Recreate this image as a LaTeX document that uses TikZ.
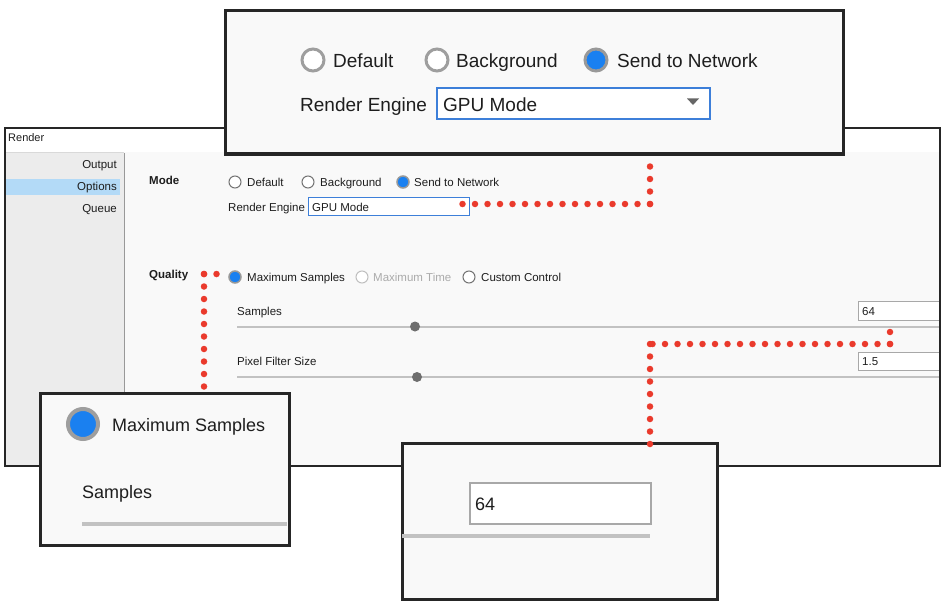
\documentclass[tikz,border=0pt]{standalone}
\usepackage{fontspec}
\setmainfont{Liberation Sans}
\definecolor{panelbg}{HTML}{F9F9F9}
\definecolor{sidebg}{HTML}{ECECEC}
\definecolor{selbg}{HTML}{B3DAF7}
\definecolor{txt}{HTML}{1E1E1E}
\definecolor{dotred}{HTML}{EA3A2C}
\definecolor{radioblue}{HTML}{1A80F0}
\definecolor{comboblue}{HTML}{3D7FD9}
\definecolor{sliderc}{HTML}{C2C2C2}
\definecolor{knobc}{HTML}{6E6E6E}
\definecolor{fieldc}{HTML}{A8A8A8}
\definecolor{disabled}{HTML}{ABABAB}
\begin{document}
\begin{tikzpicture}[x=1pt,y=-1pt,
  small/.style={anchor=base west, inner sep=0pt, text=txt, font=\fontsize{11.5}{13}\selectfont},
  smallr/.style={small, anchor=base east},
  big/.style={anchor=base west, inner sep=0pt, text=txt, font=\fontsize{19}{22}\selectfont},
  mid/.style={anchor=base west, inner sep=0pt, text=txt, font=\fontsize{18}{21}\selectfont},
  radiooff/.style={circle, draw=black!55, fill=white, line width=1pt, minimum size=12pt, inner sep=0pt},
  radioon/.style={circle, draw=black!40, fill=radioblue, line width=1.5pt, minimum size=12pt, inner sep=0pt},
  bigradiooff/.style={radiooff, draw=black!38, line width=3pt, minimum size=22pt},
  bigradioon/.style={radioon, line width=3pt, minimum size=22pt},
  calloutbox/.style={draw=black!85, line width=3.5pt, fill=panelbg, inner sep=0pt, anchor=north west},
  slider/.style={draw=sliderc, line width=2pt},
  knob/.style={circle, fill=knobc, minimum size=10pt, inner sep=0pt},
  field/.style={draw=fieldc, line width=1pt, fill=white, inner sep=0pt, anchor=north west},
  reddots/.style={draw=dotred, line width=6.5pt, line cap=round, dash pattern=on 0pt off 12.5pt}
]
\useasboundingbox (0,0) rectangle (943,602);

% ---------------- main window ----------------
\fill[panelbg] (5,128) rectangle (940,466);
\fill[white] (5,128) rectangle (940,152);
\fill[sidebg] (5,153) rectangle (124,466);
\draw[black!40, line width=1pt] (124,153) -- (124,466);
\draw[black!15, line width=0.8pt] (5,152.5) -- (124,152.5);
\fill[selbg] (5,179) rectangle (120,195);
\node[small, font=\fontsize{11}{13}\selectfont] (title) at (8,141) {Render};
\node[smallr] (sOutput) at (117,168) {Output};
\node[smallr] (sOptions) at (117,190) {Options};
\node[smallr] (sQueue) at (117,212) {Queue};

% Mode
\node[small, font=\bfseries\fontsize{11.5}{13}\selectfont] (mode) at (149,184) {Mode};
\node[radiooff] (rDef) at (235,182) {};
\node[small] (tDef) at (247,186) {Default};
\node[radiooff] (rBg) at (308,182) {};
\node[small] (tBg) at (320,186) {Background};
\node[radioon] (rNet) at (403,182) {};
\node[small] (tNet) at (414,186) {Send to Network};
\node[small] (tRE) at (228,211) {Render Engine};
\node[draw=comboblue, line width=1pt, fill=white, inner sep=0pt, anchor=north west,
      minimum width=161pt, minimum height=18pt] (combo) at (308,197) {};
\node[small] (tGPU) at (312,211) {GPU Mode};

% Quality
\node[small, font=\bfseries\fontsize{11.5}{13}\selectfont] (quality) at (149,278) {Quality};
\node[radioon] (rMax) at (235,277) {};
\node[small] (tMax) at (247,281) {Maximum Samples};
\node[radiooff, draw=black!25] (rTime) at (362,277) {};
\node[small, text=disabled] (tTime) at (373,281) {Maximum Time};
\node[radiooff] (rCust) at (469,277) {};
\node[small] (tCust) at (481,281) {Custom Control};

\node[small] (tSamples) at (237,315) {Samples};
\draw[slider] (237,326.5) -- (939,326.5);
\node[knob] (k1) at (415,326.5) {};
\node[field, minimum width=82pt, minimum height=19pt] (f64) at (858,301) {};
\node[small] (t64) at (862,315) {64};

\node[small] (tPix) at (237,365) {Pixel Filter Size};
\draw[slider] (237,377) -- (939,377);
\node[knob] (k2) at (417,377) {};
\node[field, minimum width=82pt, minimum height=18pt] (f15) at (858,352) {};
\node[small] (t15) at (862,365) {1.5};

\draw[black!85, line width=2pt] (5,128) rectangle (940,466);

% ---------------- top callout ----------------
\node[calloutbox, minimum width=618pt, minimum height=143pt] (topcall) at (223.5,9) {};
\node[bigradiooff] (bDef) at (313,60) {};
\node[big] (bDefT) at (333,67) {Default};
\node[bigradiooff] (bBg) at (437,60) {};
\node[big] (bBgT) at (456,67) {Background};
\node[bigradioon] (bNet) at (596,60) {};
\node[big] (bNetT) at (617,67) {Send to Network};
\node[big] (bRE) at (300,111) {Render Engine};
\node[draw=comboblue, line width=2pt, fill=white, inner sep=0pt, anchor=north west,
      minimum width=273pt, minimum height=31pt] (bCombo) at (436,87) {};
\node[big] (bGPU) at (443,111) {GPU Mode};
\fill[black!60] (687,98.5) -- (699,98.5) -- (693,105) -- cycle;

% ---------------- bottom-left callout ----------------
\node[calloutbox, minimum width=249pt, minimum height=152pt] (leftcall) at (38.5,391.5) {};
\node[circle, draw=black!38, fill=radioblue, line width=4pt, minimum size=30pt, inner sep=0pt] (lRad) at (83,424) {};
\node[mid] (lMax) at (112,431) {Maximum Samples};
\node[mid] (lSam) at (82,498) {Samples};
\draw[draw=sliderc, line width=4pt] (82,524) -- (287,524);

% ---------------- bottom-middle callout ----------------
\node[calloutbox, minimum width=315pt, minimum height=156pt] (midcall) at (400.5,441.5) {};
\node[field, line width=2pt, minimum width=181pt, minimum height=41pt] (bField) at (469,482) {};
\node[mid] (b64) at (475,510) {64};
\draw[draw=sliderc, line width=4pt] (402,536) -- (650,536);

% ---------------- red dotted connectors ----------------
\coordinate (p1s) at (451,204);
\coordinate (p1c) at (650,204);
\coordinate (p1e) at (650,154);
\draw[reddots] (p1c) -- (p1s);
\draw[reddots] (p1c) -- (p1e);

\coordinate (p2s) at (223,274);
\coordinate (p2c) at (204,274);
\coordinate (p2e) at (204,389);
\draw[reddots] (p2c) -- (p2s);
\draw[reddots] (p2c) -- (p2e);

\coordinate (p3s) at (890,320);
\coordinate (p3c) at (890,344);
\coordinate (p3d) at (650,344);
\coordinate (p3e) at (650,450);
\draw[reddots, dash pattern=on 0pt off 12pt] (p3c) -- (p3s);
\draw[reddots] (p3c) -- (p3d);
\draw[reddots] (p3d) -- (p3e);
\end{tikzpicture}
\end{document}
